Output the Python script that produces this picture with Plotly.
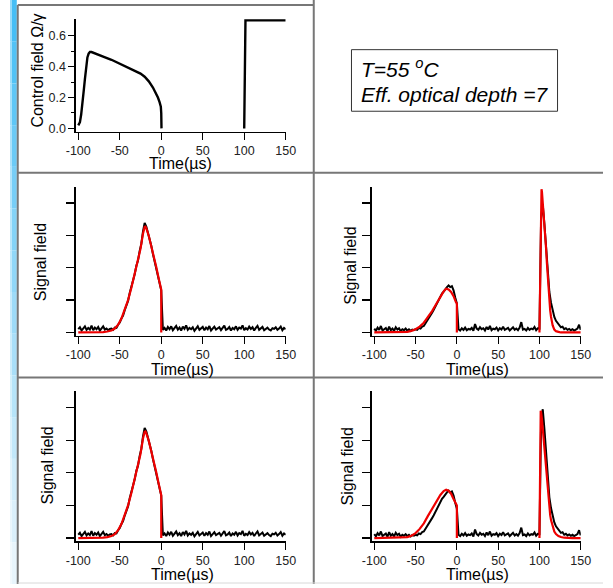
import numpy as np
import plotly.graph_objects as go

# ---------------- data ----------------
# control field (top panel)
ctrl_t = [-100, -98, -96.5, -95, -93.5, -92, -90.5, -89, -87.5, -86, -84, -80, -70, -60, -50,
          -40, -30, -25, -20, -15, -10, -7, -4, -2, -1, -0.5, 0, 0.3, None,
          100, 100.4, 101.5, 150]
ctrl_y = [0.02, 0.04, 0.09, 0.15, 0.24, 0.32, 0.41, 0.46, 0.485, 0.495, 0.495, 0.485, 0.465, 0.445, 0.42,
          0.395, 0.37, 0.355, 0.335, 0.305, 0.265, 0.235, 0.2, 0.17, 0.155, 0.14, 0.1, 0.0, None,
          0.0, 0.3, 0.7, 0.7]

# measured signal, left column (sampled every 2 us from -100)
meas_left = [
    0.10, 0.16, 0.06, 0.12, 0.19, 0.08, 0.14, 0.09, 0.21, 0.07,
    0.15, 0.10, 0.17, 0.06, 0.13, 0.19, 0.09, 0.12, 0.07, 0.11,
    0.12, 0.08, 0.15, 0.14, 0.24, 0.31, 0.43, 0.52, 0.69, 0.82,
    0.97, 1.22, 1.39, 1.63, 1.80, 2.06, 2.22, 2.52, 2.74, 3.12,
    3.38, 3.27, 3.08, 2.88, 2.68, 2.42, 2.18, 1.92, 1.74, 1.48, 1.30,
    0.08, 0.14, 0.06, 0.17, 0.10, 0.19, 0.07, 0.13, 0.20, 0.09,
    0.15, 0.06, 0.18, 0.11, 0.22, 0.08, 0.14, 0.10, 0.16, 0.05,
    0.13, 0.19, 0.08, 0.12, 0.17, 0.07, 0.15, 0.10, 0.20, 0.06,
    0.14, 0.18, 0.09, 0.12, 0.16, 0.07, 0.13, 0.21, 0.08, 0.11,
    0.17, 0.06, 0.14, 0.10, 0.19, 0.08, 0.15, 0.12, 0.22, 0.07,
    0.13, 0.09, 0.18, 0.11, 0.16, 0.06, 0.14, 0.20, 0.08, 0.12,
    0.17, 0.07, 0.10, 0.15, 0.09, 0.06, 0.13, 0.11, 0.16, 0.08,
    0.12, 0.18, 0.07, 0.14, 0.10]

# measured signal, right column (sampled every 2 us from -100)
meas_right = [
    0.12, 0.05, 0.15, 0.08, 0.20, 0.06, 0.10, 0.14, 0.04, 0.18,
    0.07, 0.12, 0.05, 0.16, 0.09, 0.13, 0.04, 0.10, 0.07, 0.12,
    0.06, 0.10, 0.05, 0.09, 0.07, 0.10, 0.08, 0.14, 0.12, 0.18,
    0.20, 0.28, 0.33, 0.44, 0.50, 0.61, 0.70, 0.80, 0.92, 1.00,
    1.10, 1.20, 1.26, 1.35, 1.40, 1.45, 1.40, 1.43, 1.30, 1.08, 0.90,
    0.10, 0.06, 0.13, 0.08, 0.15, 0.07, 0.11, 0.09, 0.14, 0.05,
    0.26, 0.12, 0.08, 0.16, 0.10, 0.13, 0.06, 0.17, 0.09, 0.20,
    0.07, 0.12, 0.10, 0.15, 0.06, 0.13, 0.09, 0.18, 0.08, 0.11,
    0.14, 0.06, 0.10, 0.16, 0.08, 0.12, 0.07, 0.15, 0.32, 0.09,
    0.11, 0.06, 0.14, 0.08, 0.12, 0.10, 0.17, 0.07, 0.13,
    0.12, 3.55, 3.95, 3.35, 2.55, 1.80, 1.25, 0.92, 0.66, 0.48,
    0.36, 0.28, 0.20, 0.16, 0.18, 0.10, 0.13, 0.08, 0.11, 0.07,
    0.10, 0.06, 0.09, 0.12, 0.24, 0.08]

meas_left_t = np.arange(-100, -100 + 2 * len(meas_left), 2)
meas_right_t = np.arange(-100, -100 + 2 * len(meas_right), 2)

# theory, left column
fit_left_t = [-100, -80, -70, -65, -60, -56, -52, -48, -44, -40, -36, -32, -28, -25, -22,
              -21, -20, -19, -18, -15, -12, -9, -6, -3, -1, 0, 0]
fit_left_y = [0, 0, 0.01, 0.03, 0.06, 0.12, 0.24, 0.43, 0.70, 1.00, 1.38, 1.80, 2.22, 2.58, 3.05,
              3.18, 3.26, 3.27, 3.22, 2.98, 2.68, 2.35, 2.02, 1.66, 1.38, 1.32, 0]

# theory, middle-right panel
fit_mr_t = [-100, -70, -60, -55, -50, -45, -40, -35, -30, -25, -20, -16, -13, -10, -7, -4, -1, 0, 0, None,
            100, 100.5, 101, 101.5, 102, 102.5, 103, 104, 105, 106, 107, 108, 109, 110, 111, 112,
            113, 114, 115, 116, 118, 120, 123, 126, 150]
fit_mr_y = [0, 0, 0.02, 0.05, 0.10, 0.18, 0.30, 0.48, 0.66, 0.88, 1.10, 1.27, 1.35, 1.33, 1.25, 1.12, 0.93, 0.90, 0, None,
            0, 1.0, 2.4, 3.6, 4.25, 4.42, 4.35, 4.05, 3.75, 3.40, 3.05, 2.60, 2.15, 1.70, 1.30, 0.95,
            0.68, 0.48, 0.33, 0.22, 0.09, 0.04, 0.02, 0, 0]

# theory, bottom-right panel
fit_br_t = [-100, -70, -60, -55, -50, -45, -40, -35, -30, -25, -20, -16, -13, -10, -7, -4, -1, 0, 0, None,
            100, 100.5, 101, 101.5, 102, 103, 104, 105, 106, 107, 108, 109, 110, 111, 112,
            113, 114, 116, 118, 120, 123, 126, 130, 140, 150]
fit_br_y = [0, 0.01, 0.03, 0.07, 0.15, 0.28, 0.45, 0.68, 0.90, 1.12, 1.32, 1.44, 1.48, 1.45, 1.36, 1.20, 1.02, 1.00, 0, None,
            0, 1.6, 3.2, 3.9, 3.85, 3.65, 3.35, 3.05, 2.70, 2.35, 2.00, 1.65, 1.35, 1.10, 0.88,
            0.70, 0.55, 0.33, 0.20, 0.12, 0.06, 0.03, 0.01, 0, 0]

x_ticks = [-100, -50, 0, 50, 100, 150]
x_ticktext = ["-100", "-50", "0", "50", "100", "150"]
ctrl_ticks = [0.0, 0.2, 0.4, 0.6]
ctrl_ticktext = ["0.0", "0.2", "0.4", "0.6"]
signal_ticks = [0, 1, 2, 3, 4]

# ---------------- layout helpers ----------------
W, H = 613, 588
def px(x):
    return x / W
def py(y):
    return 1 - y / H

FONT = "Liberation Sans, Arial, sans-serif"
RED = "rgb(238,0,0)"

fig = go.Figure()

def add_line(x, y, ax, color, width):
    fig.add_trace(go.Scatter(x=x, y=y, mode="lines", xaxis="x" + ax, yaxis="y" + ax,
                             line=dict(color=color, width=width), connectgaps=False,
                             showlegend=False, hoverinfo="skip"))

add_line(ctrl_t, ctrl_y, "", "black", 2.4)
add_line(meas_left_t, meas_left, "2", "black", 2)
add_line(fit_left_t, fit_left_y, "2", RED, 2.2)
add_line(meas_right_t, meas_right, "3", "black", 2)
add_line(fit_mr_t, fit_mr_y, "3", RED, 2.2)
add_line(meas_left_t, meas_left, "4", "black", 2)
add_line(fit_left_t, fit_left_y, "4", RED, 2.2)
add_line(meas_right_t, meas_right, "5", "black", 2)
add_line(fit_br_t, fit_br_y, "5", RED, 2.2)

def xaxis(x0, x1, anchor):
    return dict(domain=[px(x0), px(x1)], range=[-103, 150], anchor=anchor,
                showline=True, linecolor="black", linewidth=1.4,
                ticks="outside", ticklen=7, tickwidth=1.2, tickcolor="black",
                tickvals=x_ticks, ticktext=x_ticktext, showgrid=False, zeroline=False,
                ticklabelstandoff=0,
                tickfont=dict(family=FONT, size=12.5, color="#222"))

def sig_yaxis(y0, y1, anchor):
    return dict(domain=[py(y1), py(y0)], range=[-0.1, 4.5], anchor=anchor,
                showline=True, linecolor="black", linewidth=1.4,
                ticks="outside", ticklen=8, tickwidth=1.2, tickcolor="black",
                tickvals=signal_ticks, showticklabels=False,
                showgrid=False, zeroline=False)

layout = dict(
    width=W, height=H, margin=dict(l=0, r=0, t=0, b=0),
    paper_bgcolor="white", plot_bgcolor="rgba(0,0,0,0)",
    showlegend=False,
    xaxis=xaxis(68, 285, "y"),
    yaxis=dict(domain=[py(133), py(19)], range=[-0.024, 0.71], anchor="x",
               showline=True, linecolor="black", linewidth=1.4,
               ticks="outside", ticklen=6, tickwidth=1.2, tickcolor="black",
               tickvals=ctrl_ticks, ticktext=ctrl_ticktext,
               minor=dict(tickvals=[0.1, 0.3, 0.5], ticklen=3, ticks="outside",
                          tickcolor="black", tickwidth=1),
               showgrid=False, zeroline=False,
               tickfont=dict(family=FONT, size=12.5, color="#222")),
    xaxis2=xaxis(68, 285, "y2"),
    yaxis2=sig_yaxis(188, 338, "x2"),
    xaxis3=xaxis(374, 590, "y3"),
    yaxis3=sig_yaxis(188, 338, "x3"),
    xaxis4=xaxis(68, 285, "y4"),
    yaxis4=sig_yaxis(394, 545, "x4"),
    xaxis5=xaxis(374, 590, "y5"),
    yaxis5=sig_yaxis(394, 545, "x5"),
)
fig.update_layout(**layout)

# ---------------- annotations (axis titles, text box) ----------------
def ann(text, x, y, size=16, angle=0, anchor="center"):
    fig.add_annotation(text=text, x=px(x), y=py(y), xref="paper", yref="paper",
                       xanchor=anchor, yanchor="middle", showarrow=False,
                       textangle=angle, font=dict(family=FONT, size=size, color="black"))

ann("Control field Ω/γ", 28, 71, angle=-90)
for (x, y) in [(176, 165), (178, 372), (483, 372), (178, 578), (483, 578)]:
    ann("Time(µs)", x, y)
for (x, y) in [(31, 264), (352, 268), (39, 469), (349, 470)]:
    ann("Signal field", x, y, angle=-90)

ann("<i>T=55 <sup>o</sup>C</i>", 361, 68, size=21, anchor="left")
ann("<i>Eff. optical depth =7</i>", 361, 95, size=21, anchor="left")

# ---------------- decorative frame ----------------
shapes = []
n_bands = 14
top_c = np.array([70, 190, 245])
bot_c = np.array([232, 245, 252])
for i in range(n_bands):
    f = i / (n_bands - 1)
    c = (top_c * (1 - f) + bot_c * f).astype(int)
    y0 = H * i / n_bands
    y1 = H * (i + 1) / n_bands
    shapes.append(dict(type="rect", xref="paper", yref="paper", x0=px(1.5), x1=px(7),
                       y0=py(y1), y1=py(y0), line=dict(width=0),
                       fillcolor=f"rgb({c[0]},{c[1]},{c[2]})", layer="below"))
    cl = (np.array([255, 255, 255]) * 0.45 + c * 0.55).astype(int)
    shapes.append(dict(type="rect", xref="paper", yref="paper", x0=px(0), x1=px(1.5),
                       y0=py(y1), y1=py(y0), line=dict(width=0),
                       fillcolor=f"rgb({cl[0]},{cl[1]},{cl[2]})", layer="below"))

GRAY = "#777777"
def seg(x0, y0, x1, y1, color=GRAY, w=2):
    shapes.append(dict(type="line", xref="paper", yref="paper",
                       x0=px(x0), y0=py(y0), x1=px(x1), y1=py(y1),
                       line=dict(color=color, width=w)))

seg(8, 5, 8, 588)
seg(8, 5, 314, 5)
seg(314, 0, 314, 588)
seg(8, 174, 613, 174)
seg(8, 380, 613, 380)
seg(8, 587, 613, 587, color="#d8d8d8", w=1)

shapes.append(dict(type="rect", xref="paper", yref="paper",
                   x0=px(353), x1=px(566), y0=py(112), y1=py(50),
                   line=dict(color="#333333", width=1)))

fig.update_layout(shapes=shapes)

fig.write_html("out.html",
               config={"displayModeBar": False, "staticPlot": True},
               post_script="document.body.style.margin='0';document.body.style.padding='0';"
                           "document.body.style.overflow='hidden';")
